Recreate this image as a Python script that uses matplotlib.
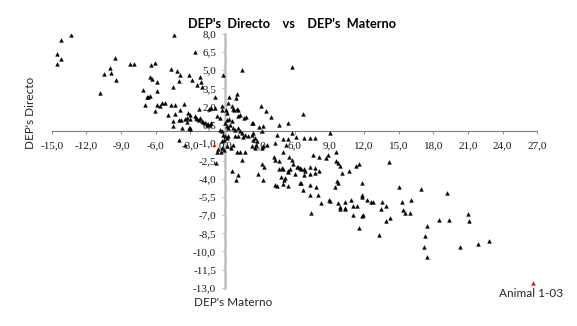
import matplotlib.pyplot as plt
from matplotlib.ticker import FixedLocator, FixedFormatter

# DEP's Materno (x) and DEP's Directo (y)
dep_materno = [
    # upper left
    -13.3, -14.2, -14.5, -14.2, -14.5,
    -4.4, -2.6, -9.5, -10.0, -10.5,
    -9.9, -9.4, -8.2, -7.9, -6.1,
    -6.4, -4.7, -4.2, -3.9, -3.1,
    -2.9, -2.4, -2.2, -6.5, -6.3,
    -5.9, -4.0, -4.5, -10.8, -7.1,
    -5.9, -6.7, -6.5, -6.8, -6.9,
    -5.9, -5.6, -5.5, -5.2, -6.1,
    -4.7, -4.3, -3.6, -3.9, -4.9,
    -4.3, -3.2, -3.0, -2.6, -2.4,
    -2.3, -4.5, -4.0, -3.8, -3.5,
    -3.3, -3.0, -4.5, -3.7, -3.1,
    -3.0, -2.1, -0.2, -0.9, -0.9,
    1.0, 0.9, 1.5, -0.3, 0.6,
    1.1, 1.3, 1.8, -0.7, 0.2,
    0.3, 3.1, 3.5, 4.0, 2.4,
    2.9, 4.7, 5.4, 4.5, 5.0,
    5.4, -4.0, -3.5,
    # right / lower
    0.7, 0.5, -0.6, -0.7, 1.0,
    1.3, 1.7, 1.5, 2.7, 3.3,
    3.6, -0.8, 0.6, 1.1, 0.9,
    2.8, 3.3, 3.2, 3.4, 4.5,
    5.0, 5.4, 4.8, 5.2, 4.7,
    5.0, 5.4, 4.3, 4.7,
    6.7, 5.8, 6.1, 9.1, 6.8,
    7.3, 7.8, 4.3, 5.3, 5.0,
    4.2, 5.5, 5.8, 7.6, 8.1,
    8.9, 8.7, 9.6, 9.6, 9.8,
    10.1, 10.7, 5.9, 6.2, 6.3,
    6.5, 6.6, 6.8, 6.9, 4.9,
    5.6, 5.4, 7.3, 7.8, 8.1,
    7.8, 7.3, 6.8, 6.0, 5.1,
    4.3, 6.6, 6.5, 7.3, 7.9,
    9.7, 9.8, 6.7, 7.3, 9.0,
    8.0, 8.3, 7.4, 9.1, 9.5,
    9.8, 9.9, 10.4, 10.4, 10.9,
    11.1, 11.4, 9.9, 11.3, 11.6,
    14.2, 11.8, 11.8, 11.8, 15.0,
    16.9, 12.3, 12.6, 12.8, 13.6,
    13.9, 13.5, 15.3, 16.1, 10.4,
    11.1, 11.9, 11.8, 15.4, 15.6,
    16.0, 14.3, 13.9, 11.6, 13.3,
    17.5, 17.3, 17.2, 18.5, 9.9,
    19.2, 21.0, 21.1, 19.4, 17.5,
    20.3, 21.9, 22.8,
    # cluster around the origin
    -0.3, 0.1, 0.7, 0.8, 1.0,
    -1.4, -1.2, -0.45, 1.1, 1.6,
    2.3, -3.3, -2.5, -2.3, -2.2,
    -2.0, -1.9, -1.75, -1.6, -1.5,
    -1.3, -1.2, 0.2, 0.56, 0.0,
    0.4, 0.13, 0.27, 0.7, 0.85,
    1.13, 1.28, 1.43, 1.71, 2.0,
    2.29, 2.43, 2.58, 3.16, 3.3,
    -3.05, -0.45, -0.3, -0.16, -0.02,
    0.13, -0.08, -0.3, 0.27, 0.85,
    1.13, 1.57, 2.43, 2.72, -0.25,
    0.13, -0.08, -0.36, 2.29, 2.58,
    3.16, 5.8, -2.0, 0.3, 0.25,
]
dep_directo = [
    # upper left
    7.9, 7.5, 6.35, 5.9, 5.5,
    7.9, 6.5, 6.0, 5.2, 4.7,
    4.8, 4.2, 5.5, 5.5, 5.6,
    5.4, 5.1, 4.9, 4.6, 4.6,
    4.2, 3.8, 4.4, 4.4, 4.3,
    4.0, 4.1, 3.6, 3.1, 3.4,
    3.3, 2.8, 2.9, 2.8, 2.1,
    2.1, 2.0, 2.3, 2.3, 1.6,
    2.1, 2.1, 2.2, 1.7, 1.3,
    1.4, 1.5, 1.3, 1.2, 1.0,
    1.8, 0.8, 0.9, 0.9, 1.0,
    0.7, 1.0, 0.4, 0.2, 0.2,
    0.1, 4.0, 4.6, 2.8, 1.9,
    3.0, 2.7, 5.0, 2.0, 2.0,
    1.7, 1.3, 1.1, 1.2, 1.5,
    1.0, 2.0, 1.6, 1.1, 0.6,
    0.3, 0.5, 0.6, -0.4, -0.7,
    -0.7, -0.8, -1.2,
    # right / lower
    -1.2, -1.4, -1.5, -1.8, -1.8,
    -1.8, -1.8, -2.4, -1.2, -1.3,
    -1.2, -2.7, -3.3, -3.7, -4.1,
    -3.6, -4.1, -2.8, -3.0, -4.6,
    -4.4, -4.6, -3.8, -3.9, -3.2,
    -3.2, -3.3, -2.4, -2.5,
    1.4, -0.2, -0.5, -0.2, -0.6,
    -0.6, -0.6, -1.0, -1.2, -1.8,
    -2.2, -2.2, -2.4, -2.0, -2.2,
    -2.0, -2.3, -1.8, -2.5, -2.7,
    -3.5, -3.3, -2.8, -3.0, -3.0,
    -3.1, -3.2, -3.2, -3.3, -3.1,
    -3.2, -3.4, -3.0, -3.1, -3.3,
    -3.5, -3.6, -3.7, -3.6, -4.1,
    -4.5, -4.3, -4.3, -4.5, -4.7,
    -4.2, -4.3, -4.9, -5.3, -5.7,
    -5.3, -6.0, -6.8, -5.8, -4.7,
    -6.0, -6.3, -5.9, -6.4, -5.7,
    -6.2, -6.2, -2.9, -2.9, -2.8,
    -2.6, -4.3, -5.3, -5.5, -4.7,
    -4.8, -5.7, -5.9, -5.9, -5.9,
    -6.2, -6.5, -5.9, -5.7, -6.5,
    -7.0, -7.0, -7.1, -6.6, -6.8,
    -6.8, -7.2, -7.5, -8.1, -8.6,
    -7.9, -8.7, -9.6, -7.4, -6.5,
    -5.2, -6.9, -7.5, -7.4, -10.5,
    -9.6, -9.4, -9.1,
    # cluster around the origin
    1.7, 1.7, 1.8, 1.7, 1.8,
    1.8, 1.9, 1.05, 1.2, 1.05,
    0.6, 1.05, 1.05, 0.9, 1.05,
    0.8, 0.7, 0.6, 0.5, 0.55,
    0.45, 0.65, 0.9, 0.77, 0.64,
    0.5, 0.36, 0.22, 0.22, 0.08,
    0.22, -0.06, -0.19, -0.33, -0.47,
    -0.33, -0.19, -0.6, -0.06, 0.36,
    0.22, 0.08, -0.06, -0.33, -0.47,
    -0.6, -0.75, -0.89, -0.47, -0.47,
    -0.41, -0.55, -0.75, -0.89, -1.43,
    -1.3, -1.57, -1.76, -1.3, -1.43,
    -1.43, 5.3, 3.65, 2.8, 2.3,
]

# highlighted animal
animal_x = [26.6]
animal_y = [-12.6]
animal_label = "Animal 1-03"
# small red mark near the origin
marca_x = [-1.0]
marca_y = [-1.2]

xticks = [-15, -12, -9, -6, -3, 0, 3, 6, 9, 12, 15, 18, 21, 24, 27]
xtick_labels = ["-15,0", "-12,0", "-9,0", "-6,0", "-3,0", "0,0", "3,0", "6,0",
                "9,0", "12,0", "15,0", "18,0", "21,0", "24,0", "27,0"]
yticks = [-13, -11.5, -10, -8.5, -7, -5.5, -4, -2.5, -1, 0.5, 2, 3.5, 5, 6.5, 8]
ytick_labels = ["-13,0", "-11,5", "-10,0", "-8,5", "-7,0", "-5,5", "-4,0", "-2,5",
                "-1,0", "0,5", "2,0", "3,5", "5,0", "6,5", "8,0"]

fig = plt.figure(figsize=(5.77, 3.26), dpi=100)
ax = fig.add_axes([0.0896, 0.1175, 0.8416, 0.7782])

ax.plot(dep_materno, dep_directo, linestyle='none', marker='^', markersize=2.7,
        color='black', markeredgewidth=0.3, zorder=3)
ax.plot(animal_x, animal_y, linestyle='none', marker='^', markersize=2.7,
        color='red', markeredgewidth=0.3, zorder=3)
ax.plot(marca_x, marca_y, linestyle='none', marker='^', markersize=2.2,
        color='red', markeredgewidth=0.3, zorder=3)
ax.annotate(animal_label, (animal_x[0], animal_y[0]), xytext=(-1.5, -7.5),
            textcoords='offset points', ha='center', va='center',
            fontsize=8.5, family='Lato', color='#262626')

ax.set_xlim(-15, 27)
ax.set_ylim(-13, 8)

# axes crossing at the origin
for s in ['top', 'right']:
    ax.spines[s].set_visible(False)
ax.spines['left'].set_position(('data', 0))
ax.spines['bottom'].set_position(('data', 0))
ax.spines['left'].set_color('#c0c0c0')
ax.spines['left'].set_linewidth(1.8)
ax.spines['bottom'].set_color('#7f7f7f')
ax.spines['bottom'].set_linewidth(0.8)
ax.spines['bottom'].set_linestyle((0, (1, 1)))

ax.xaxis.set_major_locator(FixedLocator(xticks))
ax.xaxis.set_major_formatter(FixedFormatter(xtick_labels))
ax.yaxis.set_major_locator(FixedLocator(yticks))
ax.yaxis.set_major_formatter(FixedFormatter(ytick_labels))
ax.tick_params(axis='x', direction='out', length=2.5, width=0.6, color='#7f7f7f',
               pad=5, labelsize=8, labelcolor='#1a1a1a')
ax.tick_params(axis='y', direction='out', length=2.5, width=0.8, color='#c0c0c0',
               pad=4, labelsize=8, labelcolor='#1a1a1a')
for lab in ax.get_xticklabels() + ax.get_yticklabels():
    lab.set_family('Liberation Serif')

fig.text(292 / 577, 1 - 24 / 326, "DEP's  Directo    vs    DEP's  Materno",
         ha='center', va='center', fontsize=9.2, fontweight='bold', family='Lato')
fig.text(30 / 577, 1 - 113 / 326, "DEP's Directo", rotation=90,
         ha='center', va='center', fontsize=8.5, family='Lato', color='#262626')
fig.text(233 / 577, 1 - 302 / 326, "DEP's Materno",
         ha='center', va='center', fontsize=8.5, family='Lato', color='#262626')

fig.savefig('out.png', dpi=100)
